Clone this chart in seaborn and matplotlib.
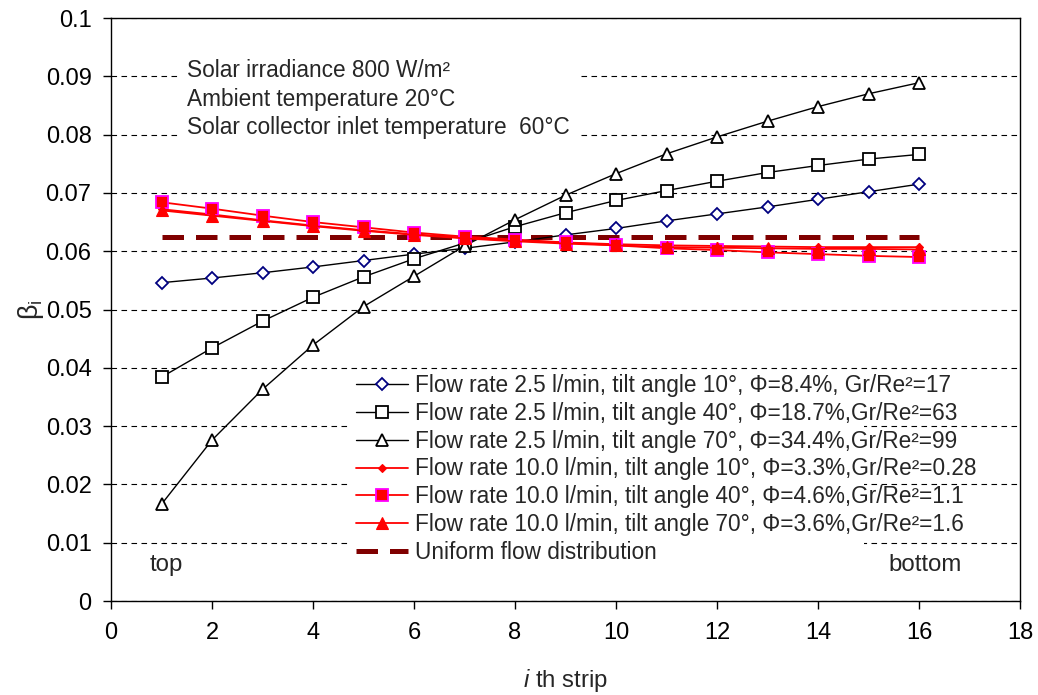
import matplotlib
matplotlib.use("Agg")
import matplotlib.pyplot as plt
from matplotlib import font_manager
from matplotlib.patches import Rectangle
import seaborn as sns

# ---- data ----
strip = [1, 2, 3, 4, 5, 6, 7, 8, 9, 10, 11, 12, 13, 14, 15, 16]
q25_t10 = [0.0546, 0.0554, 0.0563, 0.0573, 0.0584, 0.0595, 0.0605, 0.0616,
           0.0628, 0.0639, 0.0652, 0.0664, 0.0676, 0.0689, 0.0702, 0.0715]
q25_t40 = [0.0384, 0.0434, 0.0480, 0.0521, 0.0556, 0.0587, 0.0614, 0.0642,
           0.0666, 0.0687, 0.0704, 0.0720, 0.0735, 0.0747, 0.0758, 0.0766]
q25_t70 = [0.0166, 0.0276, 0.0363, 0.0439, 0.0505, 0.0557, 0.0609, 0.0654,
           0.0696, 0.0733, 0.0767, 0.0796, 0.0823, 0.0848, 0.0870, 0.0889]
q10_t10 = [0.0672, 0.0663, 0.0653, 0.0644, 0.0636, 0.0629, 0.0623, 0.0618,
           0.0615, 0.0612, 0.0610, 0.0609, 0.0608, 0.0607, 0.0607, 0.0607]
q10_t40 = [0.0684, 0.0673, 0.0661, 0.0650, 0.0641, 0.0632, 0.0625, 0.0620,
           0.0615, 0.0610, 0.0605, 0.0602, 0.0598, 0.0595, 0.0592, 0.0590]
q10_t70 = [0.0670, 0.0661, 0.0652, 0.0643, 0.0635, 0.0628, 0.0622, 0.0617,
           0.0613, 0.0610, 0.0607, 0.0606, 0.0605, 0.0604, 0.0604, 0.0603]
uniform = [0.0625, 0.0625, 0.0625, 0.0625, 0.0625, 0.0625, 0.0625, 0.0625,
           0.0625, 0.0625, 0.0625, 0.0625, 0.0625, 0.0625, 0.0625, 0.0625]

labels = [
    "Flow rate 2.5 l/min, tilt angle 10°, Φ=8.4%, Gr/Re²=17",
    "Flow rate 2.5 l/min, tilt angle 40°, Φ=18.7%,Gr/Re²=63",
    "Flow rate 2.5 l/min, tilt angle 70°, Φ=34.4%,Gr/Re²=99",
    "Flow rate 10.0 l/min, tilt angle 10°, Φ=3.3%,Gr/Re²=0.28",
    "Flow rate 10.0 l/min, tilt angle 40°, Φ=4.6%,Gr/Re²=1.1",
    "Flow rate 10.0 l/min, tilt angle 70°, Φ=3.6%,Gr/Re²=1.6",
    "Uniform flow distribution",
]
xticks = [0, 2, 4, 6, 8, 10, 12, 14, 16, 18]
yticks = [0, 0.01, 0.02, 0.03, 0.04, 0.05, 0.06, 0.07, 0.08, 0.09, 0.1]
ytick_labels = ["0", "0.01", "0.02", "0.03", "0.04", "0.05", "0.06",
                "0.07", "0.08", "0.09", "0.1"]
note = ("Solar irradiance 800 W/m²\nAmbient temperature 20°C\n"
        "Solar collector inlet temperature  60°C")

# ---- style ----
sns.set_theme(style="white")
names = {f.name for f in font_manager.fontManager.ttflist}
fam = "Liberation Sans" if "Liberation Sans" in names else "DejaVu Sans"
plt.rcParams["font.family"] = [fam, "DejaVu Sans"]
plt.rcParams["mathtext.fontset"] = "custom"
plt.rcParams["mathtext.rm"] = fam
plt.rcParams["mathtext.it"] = fam + ":italic"

FS = 16.3

fig = plt.figure(figsize=(10.38, 6.95), dpi=100)
fig.patch.set_facecolor("white")
ax = fig.add_axes([0.10694, 0.13525, 0.87572, 0.83885])
ax.set_facecolor("white")

series = [
    (q25_t10, dict(color="black", lw=1.0, marker="D", markersize=6,
                   markerfacecolor="white", markeredgecolor="#000080", markeredgewidth=1.3)),
    (q25_t40, dict(color="black", lw=1.0, marker="s", markersize=8,
                   markerfacecolor="white", markeredgecolor="black", markeredgewidth=1.3)),
    (q25_t70, dict(color="black", lw=1.0, marker="^", markersize=8.5,
                   markerfacecolor="white", markeredgecolor="black", markeredgewidth=1.3)),
    (q10_t10, dict(color="#FF0000", lw=1.3, marker="D", markersize=4,
                   markerfacecolor="#FF0000", markeredgecolor="#FF0000", markeredgewidth=0.8)),
    (q10_t40, dict(color="#FF0000", lw=1.3, marker="s", markersize=8,
                   markerfacecolor="#FF0000", markeredgecolor="#FF00FF", markeredgewidth=1.3)),
    (q10_t70, dict(color="#FF0000", lw=1.3, marker="^", markersize=8.5,
                   markerfacecolor="#FF0000", markeredgecolor="#FF0000", markeredgewidth=0.8)),
]
for (vals, kw), lab in zip(series, labels[:6]):
    sns.lineplot(x=strip, y=vals, ax=ax, label=lab, zorder=4, **kw)

sns.lineplot(x=strip, y=uniform, ax=ax, label=labels[6], color="#800000",
             lw=3.6, linestyle=(0, (4.3, 2.4)), zorder=3)

ax.set_xlim(0, 18)
ax.set_ylim(0, 0.1)
ax.set_xticks(xticks)
ax.set_xticklabels([str(v) for v in xticks])
ax.set_yticks(yticks)
ax.set_yticklabels(ytick_labels)
ax.tick_params(axis="both", which="major", direction="out", length=6, width=1,
               color="black", labelsize=FS + 0.7, labelcolor="black")
ax.tick_params(axis="y", pad=8)
ax.tick_params(axis="x", pad=9)
ax.tick_params(bottom=True, left=True)

for s in ax.spines.values():
    s.set_color("black")
    s.set_linewidth(1.0)
    s.set_visible(True)

ax.set_axisbelow(True)
ax.yaxis.grid(True, color="black", lw=0.8, linestyle=(0, (5, 4)))
ax.xaxis.grid(False)

# white box behind legend (covers grid lines like the original)
ax.add_patch(Rectangle((0.263, 0.07), 0.565, 0.325, transform=ax.transAxes,
                       facecolor="white", edgecolor="none", zorder=1))

ax.set_ylabel(r"$\mathrm{\beta_i}$", fontsize=FS + 3, va="center")
ax.yaxis.set_label_coords(-0.088, 0.5)
ax.set_xlabel(r"$\mathit{i}$ th strip", fontsize=FS + 1, va="center")
ax.xaxis.set_label_coords(0.5, -0.136)

ax.text(1.5, 0.0929, note, fontsize=FS, va="top", ha="left",
        linespacing=1.3, zorder=2,
        bbox=dict(facecolor="white", edgecolor="none", pad=6))

ax.text(0.77, 0.0062, "top", fontsize=FS + 1, va="center", ha="left")
ax.text(16.85, 0.0062, "bottom", fontsize=FS + 1, va="center", ha="right")

handles, labs = ax.get_legend_handles_labels()
leg = ax.legend(handles, labs, loc="upper left", bbox_to_anchor=(0.2695, 0.389),
                frameon=False, fontsize=FS, handlelength=2.3, handletextpad=0.3,
                labelspacing=0.21, borderpad=0, borderaxespad=0)
leg.set_zorder(5)

fig.savefig("out.png", dpi=100, facecolor="white")
